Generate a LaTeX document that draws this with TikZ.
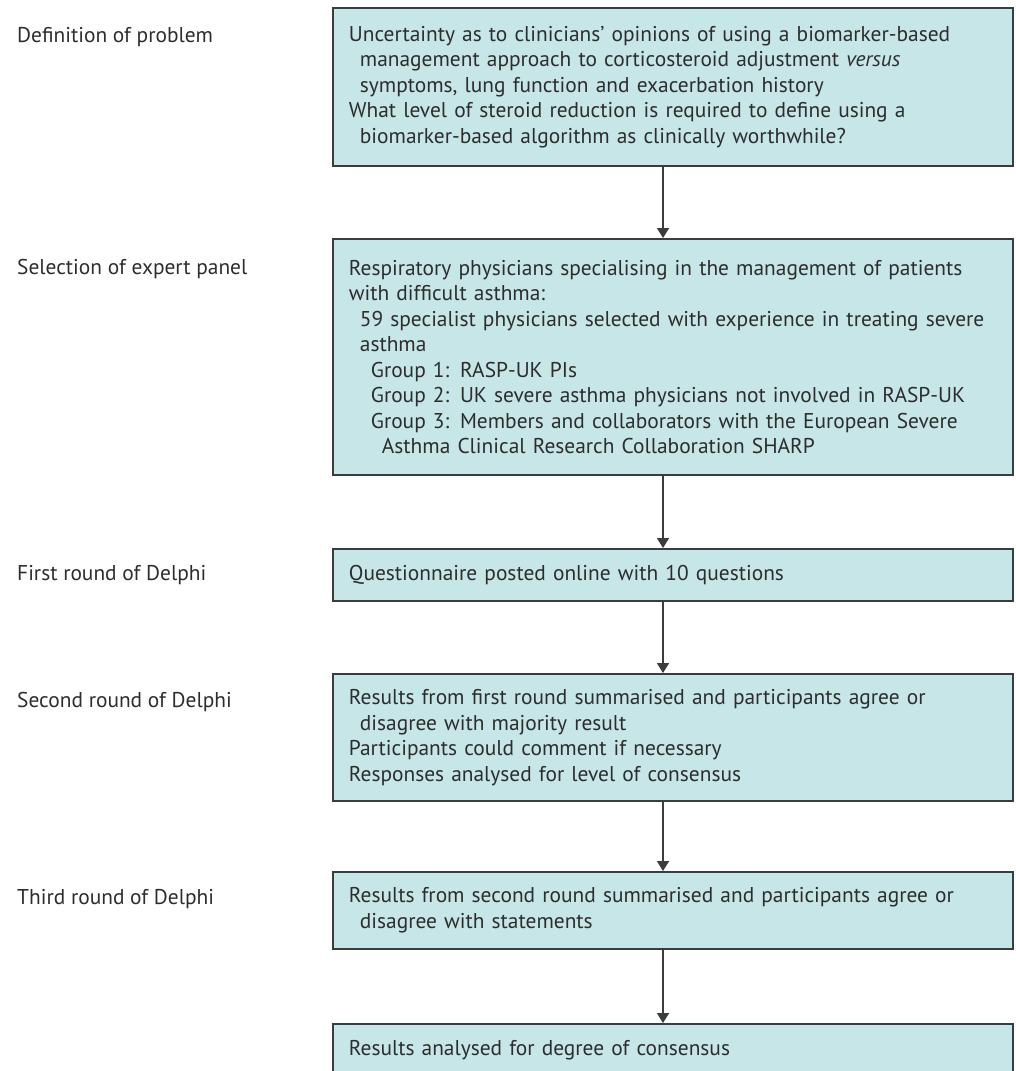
\documentclass[tikz,border=0pt]{standalone}
\usepackage{fontspec}
\setmainfont{PT Sans}
\usetikzlibrary{arrows.meta}

\definecolor{boxfill}{RGB}{198,230,232}
\definecolor{boxline}{RGB}{60,60,60}
\definecolor{inkgrey}{RGB}{45,45,45}

\tikzset{
  stepbox/.style={draw=boxline, line width=1.8pt, fill=boxfill, anchor=north west,
    minimum width=680pt, text width=648pt, inner xsep=16pt, align=left},
  phase/.style={anchor=base west, inner sep=0pt},
  flow/.style={draw=boxline, line width=1.6pt, -{Triangle[length=10pt,width=12pt]}},
}
\newcommand{\ind}{\hspace*{11pt}}

\begin{document}
\begin{tikzpicture}[x=1pt, y=-1pt, text=inkgrey, font=\fontsize{21.4}{25.5}\selectfont]
\useasboundingbox (0,0) rectangle (1016,1071);

% stages
\node[phase] (lbl1) at (17,42) {Definition of problem};
\node[phase] (lbl2) at (17,274) {Selection of expert panel};
\node[phase] (lbl3) at (17,580) {First round of Delphi};
\node[phase] (lbl4) at (17,707) {Second round of Delphi};
\node[phase] (lbl5) at (17,904) {Third round of Delphi};

% boxes
\node[stepbox, minimum height=158pt] (def) at (332,7) {Uncertainty as to clinicians' opinions of using a biomarker-based\\
  \ind management approach to corticosteroid adjustment \textit{versus}\\
  \ind symptoms, lung function and exacerbation history\\
  What level of steroid reduction is required to define using a\\
  \ind biomarker-based algorithm as clinically worthwhile?};
\node[stepbox, minimum height=236pt] (panel) at (332,238) {Respiratory physicians specialising in the management of patients\\
  with difficult asthma:\\
  \ind 59 specialist physicians selected with experience in treating severe\\
  \ind asthma\\
  \ind\ind Group 1: RASP-UK PIs\\
  \ind\ind Group 2: UK severe asthma physicians not involved in RASP-UK\\
  \ind\ind Group 3: Members and collaborators with the European Severe\\
  \ind\ind\ind Asthma Clinical Research Collaboration SHARP};
\node[stepbox, minimum height=52pt] (first) at (332,548) {Questionnaire posted online with 10 questions};
\node[stepbox, minimum height=127pt] (second) at (332,673) {Results from first round summarised and participants agree or\\
  \ind disagree with majority result\\
  Participants could comment if necessary\\
  Responses analysed for level of consensus};
\node[stepbox, minimum height=77pt] (third) at (332,871) {Results from second round summarised and participants agree or\\
  \ind disagree with statements};
\node[stepbox, minimum height=52pt] (result) at (332,1023) {Results analysed for degree of consensus};

% arrows
\coordinate (spine) at (663,0);
\draw[flow] (def.south -| spine) -- (panel.north -| spine);
\draw[flow] (panel.south -| spine) -- (first.north -| spine);
\draw[flow] (first.south -| spine) -- (second.north -| spine);
\draw[flow] (second.south -| spine) -- (third.north -| spine);
\draw[flow] (third.south -| spine) -- (result.north -| spine);

\end{tikzpicture}
\end{document}
